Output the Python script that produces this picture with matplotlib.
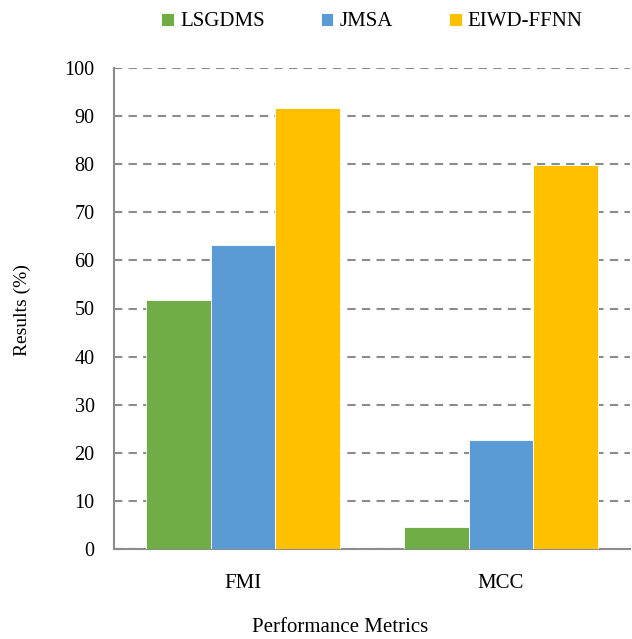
import numpy as np
import matplotlib
matplotlib.use("Agg")
import matplotlib.pyplot as plt

plt.rcParams['font.family'] = ['Liberation Serif', 'DejaVu Serif']

metrics = ["FMI", "MCC"]
methods = ["LSGDMS", "JMSA", "EIWD-FFNN"]
lsgdms = [51.8, 4.6]
jmsa = [63.2, 22.7]
eiwd = [91.7, 79.8]
colors = ["#70AD47", "#5B9BD5", "#FFC000"]

fig = plt.figure(figsize=(6.32, 6.39), dpi=100)
ax = fig.add_axes([114/632, 1 - 549/639, 516/632, 481/639])

x = np.arange(len(metrics))
w = 0.25
for i, (vals, name) in enumerate(zip([lsgdms, jmsa, eiwd], methods)):
    ax.bar(x + (i - 1) * w, vals, w, color=colors[i], label=name, edgecolor="white", linewidth=0.6, zorder=3)

ax.set_xlim(-0.5, 1.5)
ax.set_ylim(0, 100)
ax.set_yticks(range(0, 101, 10))
ax.set_xticks(x)
ax.set_xticklabels(metrics)
ax.yaxis.grid(True, linestyle=(0, (4, 3)), color="#8c8c8c", linewidth=1.5, zorder=0)
ax.tick_params(axis='y', length=4, direction='in', color="#8c8c8c", labelsize=14.5, pad=14)
ax.tick_params(axis='x', length=0, labelsize=15, pad=18)
for s in ["left", "bottom"]:
    ax.spines[s].set_color("#8c8c8c")
    ax.spines[s].set_linewidth(1.5)
ax.spines["right"].set_visible(False)
ax.spines["top"].set_visible(False)

fig.text(22/632, 1 - 310/639, "Results (%)", rotation=90, ha="center", va="center", fontsize=14)
fig.text(340/632, 1 - 628/639, "Performance Metrics", ha="center", va="center", fontsize=15)

fig.legend(loc="center", bbox_to_anchor=(372/632, 1 - 22/639), ncol=3, frameon=False,
           fontsize=15, handlelength=0.6, handleheight=0.6, handletextpad=0.3, columnspacing=2.7)

fig.savefig("out.png", dpi=100)
